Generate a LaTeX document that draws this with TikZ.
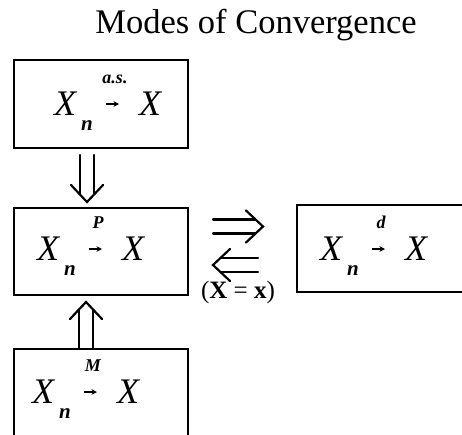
\documentclass[tikz,border=0pt]{standalone}
\usepackage{fontspec}
\setmainfont{Liberation Serif}
\usetikzlibrary{arrows.meta}
\tikzset{
  boxnode/.style={draw, line width=2.2pt, inner sep=0pt, anchor=north west},
  bigX/.style={inner sep=0pt, font=\fontsize{36}{36}\selectfont\itshape},
  subn/.style={inner sep=0pt, font=\fontsize{21}{21}\selectfont\bfseries\itshape},
  lab/.style={inner sep=0pt, font=\fontsize{18}{18}\selectfont\bfseries\itshape},
  titletext/.style={inner sep=0pt, font=\fontsize{34.5}{34.5}\selectfont},
  condtext/.style={inner sep=0pt, font=\fontsize{25}{25}\selectfont},
  smallarrow/.style={line width=1.4pt, -{Stealth[length=5.5pt,width=5.5pt]}},
  arrline/.style={line width=2.2pt, line cap=round, line join=miter},
  pics/dblarrow/.style={code={
    \draw[arrline] (-#1,-7) -- (-8,-7) (-#1,7) -- (-8,7);
    \draw[arrline] (-17,-16) -- (0,0) -- (-17,16);
  }}
}
\newcommand\placemode[4]{%
  \begin{scope}[shift={(#2,#3)}]
    \node[bigX, anchor=base west] (#1X) at (0,0) {X};
    \node[subn, anchor=base west] (#1n) at (27,15) {n};
    \node[lab, anchor=base] (#1l) at (61,-32) {#4};
    \node[bigX, anchor=base west] (#1Y) at (85,0) {X};
    \coordinate (#1a) at (52,-11);
    \coordinate (#1b) at (65,-11);
    \draw[smallarrow] (#1a) -- (#1b);
  \end{scope}%
}
\begin{document}
\begin{tikzpicture}[x=1pt, y=-1pt]
  \useasboundingbox (0,0) rectangle (462,434);
  \clip (0,0) rectangle (462,434);
  \node[titletext, anchor=base] (title) at (256,33) {Modes of Convergence};

  \node[boxnode, minimum width=174pt, minimum height=88pt] (asbox) at (13,59) {};
  \node[boxnode, minimum width=174pt, minimum height=87pt] (pbox) at (13,207) {};
  \node[boxnode, minimum width=184pt, minimum height=87pt] (dbox) at (296,204) {};
  \node[boxnode, minimum width=174pt, minimum height=100pt] (mbox) at (13,348) {};

  \placemode{as}{54}{115}{a.s.}
  \placemode{p}{37}{260}{P}
  \placemode{d}{320}{260}{d}
  \placemode{m}{32}{403}{M}

  % implications
  \coordinate (downtip) at (87,202);
  \coordinate (uptip) at (86,302);
  \coordinate (righttip) at (263,226.5);
  \coordinate (lefttip) at (213,265);
  \pic[rotate=-90] at (downtip) {dblarrow=47};
  \pic[rotate=90] at (uptip) {dblarrow=46};
  \pic at (righttip) {dblarrow=50};
  \pic[rotate=180] at (lefttip) {dblarrow=45};

  \node[condtext, anchor=base] (cond) at (238,298) {({\bfseries X}\ =\ {\bfseries x})};
\end{tikzpicture}
\end{document}
